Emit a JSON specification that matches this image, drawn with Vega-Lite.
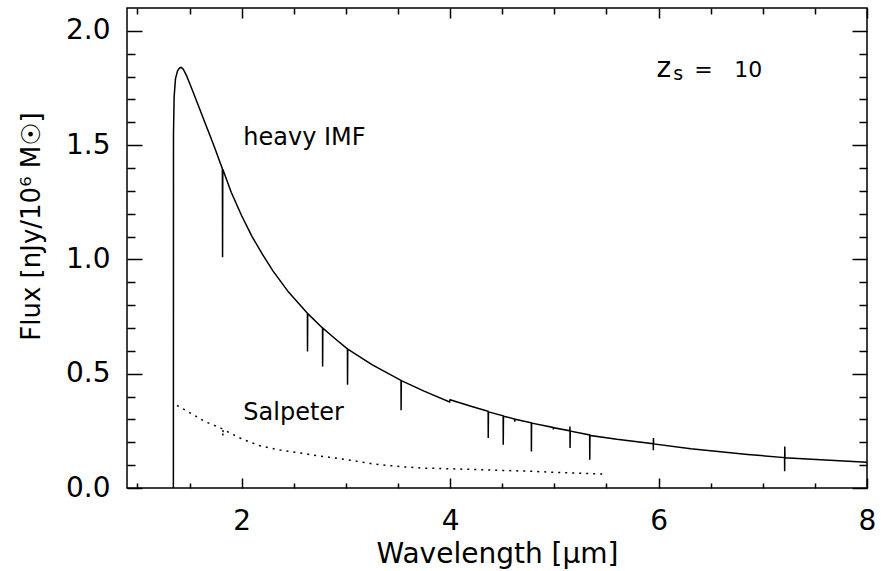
{
  "$schema": "https://vega.github.io/schema/vega-lite/v6.json",
  "width": 740,
  "height": 480,
  "autosize": "none",
  "padding": {"left": 127, "top": 8, "right": 18, "bottom": 83},
  "background": "white",
  "config": {
    "font": "DejaVu Sans",
    "view": {"stroke": "black", "strokeWidth": 1.5},
    "axis": {"grid": false, "domain": false, "tickColor": "black", "tickWidth": 1.5, "labelColor": "black", "titleColor": "black", "labelFont": "DejaVu Sans", "titleFont": "DejaVu Sans", "titleFontWeight": "normal", "labelFlush": false, "labelOverlap": false}
  },
  "datasets": {
    "heavy": [
      {"w": 1.345, "f": 0}, {"w": 1.346, "f": 1.55}, {"w": 1.352, "f": 1.71}, {"w": 1.365, "f": 1.79}, {"w": 1.385, "f": 1.825}, {"w": 1.405, "f": 1.838}, {"w": 1.42, "f": 1.84}, {"w": 1.44, "f": 1.832}, {"w": 1.47, "f": 1.805}, {"w": 1.5, "f": 1.772}, {"w": 1.55, "f": 1.714}, {"w": 1.6, "f": 1.655}, {"w": 1.65, "f": 1.596}, {"w": 1.7, "f": 1.538}, {"w": 1.75, "f": 1.478}, {"w": 1.8, "f": 1.415}, {"w": 1.815, "f": 1.397}, {"w": 1.817, "f": 1.01}, {"w": 1.819, "f": 1.395}, {"w": 1.9, "f": 1.294}, {"w": 2.0, "f": 1.191}, {"w": 2.1, "f": 1.1}, {"w": 2.2, "f": 1.022}, {"w": 2.3, "f": 0.95}, {"w": 2.45, "f": 0.857}, {"w": 2.55, "f": 0.806}, {"w": 2.631, "f": 0.764}, {"w": 2.632, "f": 0.597}, {"w": 2.634, "f": 0.763}, {"w": 2.776, "f": 0.7}, {"w": 2.777, "f": 0.532}, {"w": 2.779, "f": 0.699}, {"w": 2.9, "f": 0.652}, {"w": 3.015, "f": 0.609}, {"w": 3.016, "f": 0.452}, {"w": 3.018, "f": 0.608}, {"w": 3.25, "f": 0.54}, {"w": 3.529, "f": 0.471}, {"w": 3.53, "f": 0.34}, {"w": 3.532, "f": 0.47}, {"w": 3.75, "f": 0.424}, {"w": 3.995, "f": 0.376}, {"w": 4.0, "f": 0.386}, {"w": 4.2, "f": 0.358}, {"w": 4.365, "f": 0.336}, {"w": 4.366, "f": 0.219}, {"w": 4.368, "f": 0.333}, {"w": 4.509, "f": 0.316}, {"w": 4.51, "f": 0.189}, {"w": 4.512, "f": 0.314}, {"w": 4.619, "f": 0.302}, {"w": 4.62, "f": 0.29}, {"w": 4.622, "f": 0.301}, {"w": 4.779, "f": 0.285}, {"w": 4.78, "f": 0.16}, {"w": 4.782, "f": 0.284}, {"w": 4.989, "f": 0.265}, {"w": 4.99, "f": 0.256}, {"w": 4.992, "f": 0.264}, {"w": 5.149, "f": 0.25}, {"w": 5.15, "f": 0.269}, {"w": 5.151, "f": 0.175}, {"w": 5.153, "f": 0.249}, {"w": 5.339, "f": 0.232}, {"w": 5.34, "f": 0.124}, {"w": 5.342, "f": 0.23}, {"w": 5.6, "f": 0.213}, {"w": 5.949, "f": 0.194}, {"w": 5.95, "f": 0.165}, {"w": 5.951, "f": 0.219}, {"w": 5.953, "f": 0.193}, {"w": 6.31, "f": 0.172}, {"w": 6.855, "f": 0.147}, {"w": 7.209, "f": 0.133}, {"w": 7.21, "f": 0.073}, {"w": 7.211, "f": 0.182}, {"w": 7.213, "f": 0.132}, {"w": 7.6, "f": 0.122}, {"w": 8.0, "f": 0.113}
    ],
    "salpeter": [
      {"w": 1.38, "f": 0.361}, {"w": 1.5, "f": 0.33}, {"w": 1.65, "f": 0.29}, {"w": 1.8, "f": 0.262}, {"w": 1.818, "f": 0.258}, {"w": 1.82, "f": 0.226}, {"w": 1.822, "f": 0.256}, {"w": 2.0, "f": 0.215}, {"w": 2.18, "f": 0.184}, {"w": 2.37, "f": 0.166}, {"w": 2.56, "f": 0.153}, {"w": 2.78, "f": 0.138}, {"w": 3.015, "f": 0.124}, {"w": 3.25, "f": 0.106}, {"w": 3.53, "f": 0.093}, {"w": 3.75, "f": 0.087}, {"w": 4.01, "f": 0.084}, {"w": 4.3, "f": 0.08}, {"w": 4.5, "f": 0.077}, {"w": 4.78, "f": 0.073}, {"w": 5.1, "f": 0.067}, {"w": 5.48, "f": 0.061}
    ],
    "ann1": [
      {"w": 2.016, "f": 1.499, "label": "heavy IMF"},
      {"w": 2.016, "f": 0.299, "label": "Salpeter"}
    ],
    "ann2": [
      {"w": 6.343, "f": 1.797, "label": "="},
      {"w": 6.727, "f": 1.797, "label": "10"}
    ],
    "annz": [
      {"w": 5.98, "f": 1.797, "label": "z"}
    ],
    "ann3": [
      {"w": 6.14, "f": 1.784, "label": "s"}
    ]
  },
  "resolve": {"axis": {"x": "independent", "y": "independent"}},
  "layer": [
    {
      "data": {"name": "heavy"},
      "mark": {"type": "line", "color": "black", "strokeWidth": 1.5, "clip": true},
      "encoding": {
        "x": {"field": "w", "type": "quantitative", "scale": {"domain": [0.9, 8], "nice": false, "zero": false},
          "axis": {"orient": "bottom", "values": [2, 4, 6, 8], "format": "d", "ticks": false, "labelPadding": 19, "labelFontSize": 28, "title": "Wavelength [μm]", "titleFontSize": 28, "titleBaseline": "alphabetic", "titleX": 370, "titleY": 74}},
        "y": {"field": "f", "type": "quantitative", "scale": {"domain": [0, 2.1], "nice": false, "zero": false},
          "axis": {"orient": "left", "values": [0, 0.5, 1, 1.5, 2], "format": ".1f", "ticks": false, "labelPadding": 17, "labelFontSize": 28, "title": "Flux [nJy/10⁶ M☉]", "titleFontSize": 26, "titleBaseline": "alphabetic", "titleX": -88, "titleY": 218}},
        "order": {"value": null}
      }
    },
    {
      "data": {"name": "salpeter"},
      "mark": {"type": "line", "color": "black", "strokeWidth": 1.5, "strokeDash": [2, 5], "clip": true},
      "encoding": {
        "x": {"field": "w", "type": "quantitative", "axis": {"orient": "bottom", "values": [2, 4, 6, 8], "labels": false, "tickSize": -10, "title": null}},
        "y": {"field": "f", "type": "quantitative", "axis": {"orient": "left", "values": [0, 0.5, 1, 1.5, 2], "labels": false, "tickSize": -15, "title": null}},
        "order": {"value": null}
      }
    },
    {
      "data": {"name": "ann1"},
      "mark": {"type": "text", "align": "left", "baseline": "alphabetic", "fontSize": 24, "color": "black"},
      "encoding": {
        "x": {"field": "w", "type": "quantitative", "axis": {"orient": "bottom", "values": [1, 1.5, 2.5, 3, 3.5, 4.5, 5, 5.5, 6.5, 7, 7.5], "labels": false, "tickSize": -5, "title": null}},
        "y": {"field": "f", "type": "quantitative", "axis": {"orient": "left", "values": [0.1, 0.2, 0.3, 0.4, 0.6, 0.7, 0.8, 0.9, 1.1, 1.2, 1.3, 1.4, 1.6, 1.7, 1.8, 1.9], "labels": false, "tickSize": -8, "title": null}},
        "text": {"field": "label"}
      }
    },
    {
      "data": {"name": "ann2"},
      "mark": {"type": "text", "align": "left", "baseline": "alphabetic", "fontSize": 22, "color": "black"},
      "encoding": {
        "x": {"field": "w", "type": "quantitative", "axis": {"orient": "top", "values": [2, 4, 6, 8], "labels": false, "tickSize": -10, "title": null}},
        "y": {"field": "f", "type": "quantitative", "axis": {"orient": "right", "values": [0, 0.5, 1, 1.5, 2], "labels": false, "tickSize": -15, "title": null}},
        "text": {"field": "label"}
      }
    },
    {
      "data": {"name": "ann3"},
      "mark": {"type": "text", "align": "left", "baseline": "alphabetic", "fontSize": 19, "color": "black"},
      "encoding": {
        "x": {"field": "w", "type": "quantitative", "axis": {"orient": "top", "values": [1, 1.5, 2.5, 3, 3.5, 4.5, 5, 5.5, 6.5, 7, 7.5], "labels": false, "tickSize": -6, "title": null}},
        "y": {"field": "f", "type": "quantitative", "axis": {"orient": "right", "values": [0.1, 0.2, 0.3, 0.4, 0.6, 0.7, 0.8, 0.9, 1.1, 1.2, 1.3, 1.4, 1.6, 1.7, 1.8, 1.9], "labels": false, "tickSize": -8, "title": null}},
        "text": {"field": "label"}
      }
    },
    {
      "data": {"name": "annz"},
      "mark": {"type": "text", "align": "left", "baseline": "alphabetic", "fontSize": 28, "color": "black"},
      "encoding": {
        "x": {"field": "w", "type": "quantitative", "axis": null},
        "y": {"field": "f", "type": "quantitative", "axis": null},
        "text": {"field": "label"}
      }
    }
  ]
}
